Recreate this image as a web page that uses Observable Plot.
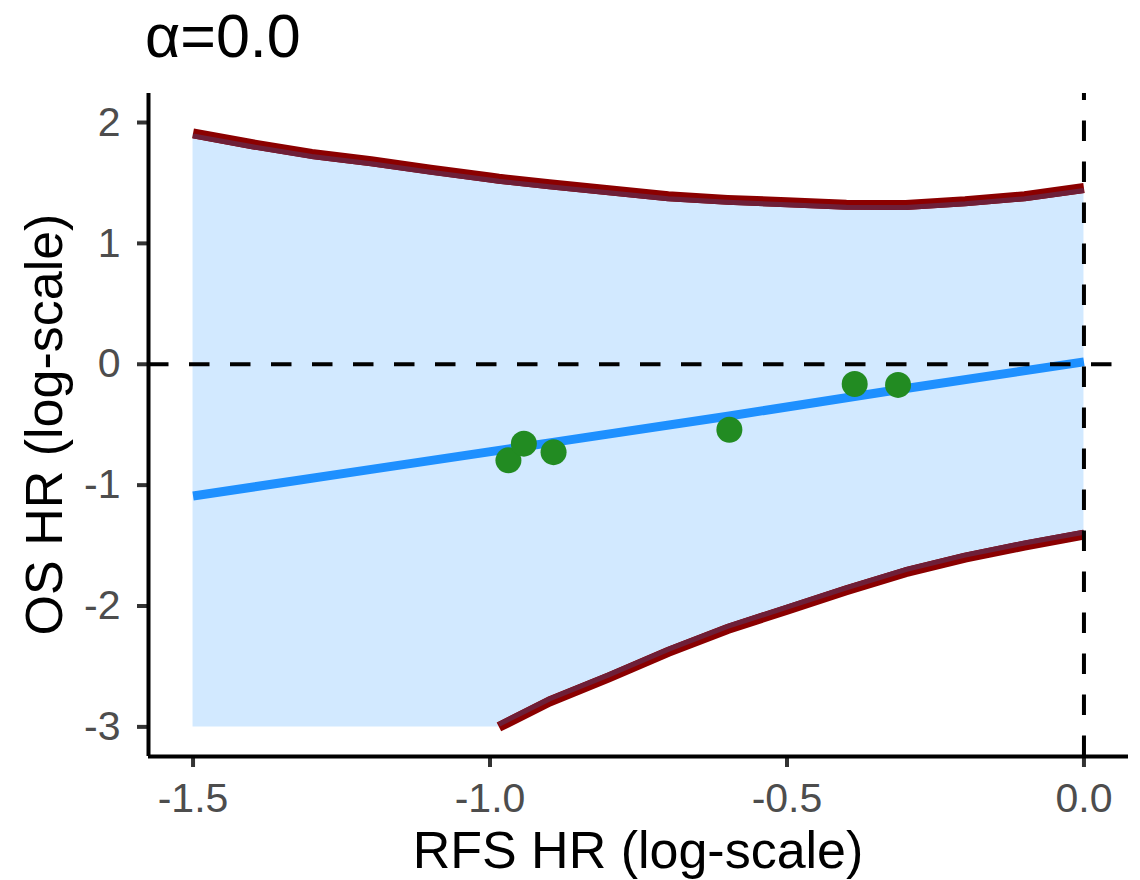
<!DOCTYPE html>
<html>
<head>
<meta charset="utf-8">
<script src="https://cdn.jsdelivr.net/npm/d3@7"></script>
<script src="https://cdn.jsdelivr.net/npm/@observablehq/plot@0.6"></script>
<style>
  html, body { margin: 0; padding: 0; background: white; }
  #chart { width: 1140px; height: 880px; }
</style>
</head>
<body>
<div id="chart"></div>
<script>
// ---- data ----
const titleText = "α=0.0";
const xLabel = "RFS HR (log-scale)";
const yLabel = "OS HR (log-scale)";

const xTicks = [-1.5, -1.0, -0.5, 0.0];
const yTicks = [2, 1, 0, -1, -2, -3];

// common grid for the confidence band
const gridX = [-1.5, -1.4, -1.3, -1.2, -1.1, -1.0, -0.985, -0.9, -0.8, -0.7, -0.6, -0.5, -0.4, -0.3, -0.2, -0.1, 0.0];
const upperY = [1.91, 1.82, 1.74, 1.68, 1.61, 1.545, 1.535, 1.49, 1.44, 1.39, 1.36, 1.34, 1.32, 1.317, 1.348, 1.39, 1.458];
const lowerY = [-3, -3, -3, -3, -3, -3, -3.0, -2.79, -2.59, -2.38, -2.19, -2.03, -1.87, -1.72, -1.60, -1.50, -1.41];
const lowerStart = -0.985; // lower boundary curve visible from here

// fitted line
const fitX = [-1.5, -1.2, -0.9, -0.6, -0.3, 0.0];
const fitY = [-1.09, -0.87, -0.65, -0.43, -0.20, 0.02];

// observed trials
const ptX = [-0.969, -0.943, -0.893, -0.597, -0.386, -0.313];
const ptY = [-0.795, -0.657, -0.727, -0.542, -0.163, -0.171];

// ---- tables built from the arrays ----
const band = gridX.map((x, i) => ({x, hi: upperY[i], lo: lowerY[i]}));
const lowerCurve = band.filter(d => d.x >= lowerStart);
const fit = fitX.map((x, i) => ({x, y: fitY[i]}));
const pts = ptX.map((x, i) => ({x, y: ptY[i]}));

const xDom = [-1.575, 0.075];
const yDom = [-3.245, 2.24];

const chart = Plot.plot({
  width: 1140,
  height: 880,
  marginLeft: 148,
  marginRight: 12,
  marginTop: 93,
  marginBottom: 124,
  x: {domain: xDom},
  y: {domain: yDom},
  style: {fontFamily: "'Liberation Sans', Arial, sans-serif", background: "white", color: "black", overflow: "visible"},
  marks: [
    Plot.areaY(band, {x: "x", y1: "lo", y2: "hi", fill: "#d2e9ff"}),
    Plot.line(band, {x: "x", y: "hi", stroke: "#8b0000", strokeWidth: 10, strokeLinecap: "butt"}),
    Plot.line(band, {x: "x", y: "hi", stroke: "#6e1f38", strokeWidth: 5, dy: 2.5, strokeLinecap: "butt"}),
    Plot.line(lowerCurve, {x: "x", y: "lo", stroke: "#8b0000", strokeWidth: 10, strokeLinecap: "butt"}),
    Plot.line(lowerCurve, {x: "x", y: "lo", stroke: "#6e1f38", strokeWidth: 5, dy: -2.5, strokeLinecap: "butt"}),
    Plot.line(fit, {x: "x", y: "y", stroke: "#1e90ff", strokeWidth: 9, strokeLinecap: "butt"}),
    Plot.dot(pts, {x: "x", y: "y", r: 13, fill: "#228b22", stroke: "none"}),
    Plot.ruleY([0], {stroke: "black", strokeWidth: 4, strokeDasharray: "20.5,20.5"}),
    Plot.ruleX([0], {y1: yDom[0], y2: yDom[1], stroke: "black", strokeWidth: 4, strokeDasharray: "20.5,20.5"}),
    Plot.axisX({ticks: xTicks, tickFormat: d => d.toFixed(1), tickSize: 11, tickPadding: 15,
      stroke: "#333333", strokeWidth: 4, fill: "#4d4d4d", fontSize: 41, label: null}),
    Plot.axisY({ticks: yTicks, tickFormat: d => String(d), tickSize: 11, tickPadding: 17,
      stroke: "#333333", strokeWidth: 4, fill: "#4d4d4d", fontSize: 41, label: null}),
    Plot.ruleY([yDom[0]], {stroke: "black", strokeWidth: 4}),
    Plot.ruleX([xDom[0]], {stroke: "black", strokeWidth: 4})
  ]
});

const svg = d3.select(chart);
svg.append("text")
  .attr("x", 145).attr("y", 57)
  .attr("text-anchor", "start")
  .attr("font-size", 61).attr("fill", "black")
  .text(titleText);
svg.append("text")
  .attr("x", 638).attr("y", 868)
  .attr("text-anchor", "middle")
  .attr("font-size", 52).attr("fill", "black")
  .text(xLabel);
svg.append("text")
  .attr("transform", "translate(62,424.5) rotate(-90)")
  .attr("text-anchor", "middle")
  .attr("font-size", 52).attr("fill", "black")
  .text(yLabel);

document.getElementById("chart").appendChild(chart);
</script>
</body>
</html>
